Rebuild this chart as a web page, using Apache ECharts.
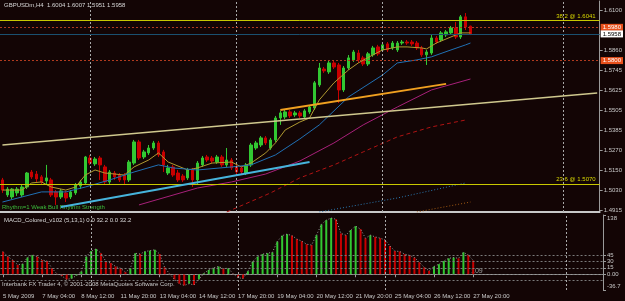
<!DOCTYPE html>
<html>
<head>
<meta charset="utf-8">
<script src="https://cdn.jsdelivr.net/npm/echarts@6/dist/echarts.min.js"></script>
<style>
html, body { margin: 0; padding: 0; background: #130505; }
#chart { width: 625px; height: 301px; }
</style>
</head>
<body>
<div id="chart"></div>
<script>
// ---- GBPUSD H4 candles: [open, close, low, high] ----
var candles = [
  [1.5093, 1.5033, 1.5016, 1.5105], [1.5004, 1.5039, 1.4992, 1.5051], [1.4992, 1.5039, 1.4980, 1.5045],
  [1.5016, 1.5039, 1.4998, 1.5051], [1.5004, 1.5051, 1.4992, 1.5063], [1.5051, 1.5134, 1.5039, 1.5140],
  [1.5140, 1.5111, 1.5099, 1.5152], [1.5128, 1.5099, 1.5081, 1.5146], [1.5111, 1.5081, 1.5069, 1.5122],
  [1.5087, 1.5105, 1.5069, 1.5182], [1.5093, 1.5004, 1.4992, 1.5105], [1.5022, 1.4992, 1.4945, 1.5033],
  [1.4992, 1.5028, 1.4980, 1.5039], [1.5016, 1.4986, 1.4962, 1.5028], [1.4992, 1.5022, 1.4980, 1.5033],
  [1.5016, 1.5063, 1.5004, 1.5075], [1.5057, 1.5081, 1.5039, 1.5093], [1.5075, 1.5229, 1.5063, 1.5235],
  [1.5223, 1.5193, 1.5182, 1.5241], [1.5188, 1.5217, 1.5176, 1.5229], [1.5223, 1.5182, 1.5093, 1.5235],
  [1.5170, 1.5081, 1.5069, 1.5182], [1.5081, 1.5140, 1.5069, 1.5152], [1.5134, 1.5111, 1.5093, 1.5146],
  [1.5122, 1.5093, 1.5081, 1.5134], [1.5122, 1.5093, 1.5069, 1.5134], [1.5093, 1.5199, 1.5081, 1.5211],
  [1.5193, 1.5318, 1.5182, 1.5330], [1.5318, 1.5223, 1.5211, 1.5330], [1.5229, 1.5259, 1.5217, 1.5271],
  [1.5253, 1.5282, 1.5241, 1.5300], [1.5282, 1.5312, 1.5271, 1.5324], [1.5312, 1.5241, 1.5229, 1.5324],
  [1.5259, 1.5182, 1.5140, 1.5271], [1.5134, 1.5164, 1.5122, 1.5182], [1.5170, 1.5122, 1.5111, 1.5182],
  [1.5134, 1.5093, 1.5081, 1.5152], [1.5116, 1.5093, 1.5081, 1.5128], [1.5105, 1.5152, 1.5093, 1.5164],
  [1.5152, 1.5093, 1.5051, 1.5164], [1.5093, 1.5193, 1.5063, 1.5205], [1.5182, 1.5223, 1.5170, 1.5235],
  [1.5229, 1.5211, 1.5199, 1.5241], [1.5223, 1.5205, 1.5193, 1.5235], [1.5199, 1.5229, 1.5188, 1.5241],
  [1.5229, 1.5182, 1.5170, 1.5241], [1.5182, 1.5211, 1.5170, 1.5282], [1.5211, 1.5164, 1.5152, 1.5223],
  [1.5170, 1.5140, 1.5128, 1.5182], [1.5164, 1.5140, 1.5122, 1.5176], [1.5134, 1.5182, 1.5122, 1.5193],
  [1.5182, 1.5300, 1.5170, 1.5312], [1.5282, 1.5312, 1.5271, 1.5324], [1.5300, 1.5342, 1.5288, 1.5353],
  [1.5342, 1.5312, 1.5300, 1.5353], [1.5282, 1.5330, 1.5271, 1.5342], [1.5330, 1.5460, 1.5318, 1.5472],
  [1.5460, 1.5490, 1.5419, 1.5502], [1.5466, 1.5496, 1.5454, 1.5507], [1.5496, 1.5472, 1.5460, 1.5507],
  [1.5478, 1.5490, 1.5466, 1.5502], [1.5490, 1.5472, 1.5460, 1.5502], [1.5466, 1.5502, 1.5454, 1.5513],
  [1.5496, 1.5525, 1.5484, 1.5537], [1.5519, 1.5668, 1.5507, 1.5679], [1.5656, 1.5756, 1.5644, 1.5786],
  [1.5750, 1.5739, 1.5727, 1.5762], [1.5733, 1.5786, 1.5721, 1.5798], [1.5786, 1.5762, 1.5750, 1.5798],
  [1.5774, 1.5626, 1.5549, 1.5786], [1.5626, 1.5756, 1.5614, 1.5768], [1.5756, 1.5816, 1.5745, 1.5833],
  [1.5804, 1.5851, 1.5792, 1.5863], [1.5845, 1.5804, 1.5786, 1.5863], [1.5816, 1.5780, 1.5768, 1.5828],
  [1.5780, 1.5840, 1.5768, 1.5851], [1.5834, 1.5875, 1.5822, 1.5887], [1.5881, 1.5840, 1.5828, 1.5893],
  [1.5863, 1.5893, 1.5851, 1.5904], [1.5899, 1.5863, 1.5851, 1.5910], [1.5875, 1.5904, 1.5863, 1.5916],
  [1.5863, 1.5904, 1.5851, 1.5916], [1.5904, 1.5910, 1.5893, 1.5922], [1.5910, 1.5904, 1.5893, 1.5922],
  [1.5910, 1.5899, 1.5887, 1.5922], [1.5904, 1.5875, 1.5863, 1.5916], [1.5875, 1.5834, 1.5822, 1.5887],
  [1.5834, 1.5851, 1.5774, 1.5863], [1.5845, 1.5934, 1.5834, 1.5952], [1.5934, 1.5910, 1.5899, 1.5946],
  [1.5922, 1.5964, 1.5910, 1.5975], [1.5952, 1.5970, 1.5940, 1.5981], [1.5964, 1.5993, 1.5952, 1.6005],
  [1.5993, 1.5940, 1.5928, 1.6029], [1.5940, 1.6059, 1.5928, 1.6070], [1.6059, 1.5999, 1.5981, 1.6082],
  [1.6004, 1.5958, 1.5951, 1.6007]
];

// ---- moving averages, [bar, price] ----
var maFast = [[0, 1.5033], [4, 1.5033], [6, 1.5075], [8, 1.5081], [10, 1.5051], [13, 1.5033], [15, 1.5051],
  [17, 1.5122], [19, 1.5152], [21, 1.5134], [25, 1.5122], [27, 1.5170], [30, 1.5211], [32, 1.5253],
  [34, 1.5199], [38, 1.5152], [40, 1.5164], [43, 1.5193], [47, 1.5199], [49, 1.5170], [51, 1.5193],
  [54, 1.5253], [56, 1.5312], [58, 1.5389], [61, 1.5436], [63, 1.5460], [65, 1.5567], [68, 1.5668],
  [71, 1.5745], [73, 1.5786], [76, 1.5834], [78, 1.5863], [81, 1.5881], [83, 1.5881], [86, 1.5875],
  [87, 1.5869], [89, 1.5904], [92, 1.5940], [94, 1.5964], [96, 1.5964]];
var maMid = [[0, 1.4962], [4, 1.4992], [8, 1.5022], [13, 1.5022], [17, 1.5051], [22, 1.5093], [27, 1.5140],
  [32, 1.5182], [35, 1.5164], [40, 1.5152], [47, 1.5170], [51, 1.5182], [56, 1.5241], [61, 1.5336],
  [65, 1.5419], [71, 1.5585], [78, 1.5715], [81, 1.5786], [85, 1.5804], [88, 1.5822], [92, 1.5863],
  [95, 1.5893], [96, 1.5904]];
var maSlow = [[28, 1.4945], [40, 1.5045], [47, 1.5081], [54, 1.5128], [61, 1.5205], [68, 1.5312],
  [74, 1.5419], [81, 1.5525], [88, 1.5626], [96, 1.5691]];
var maLong = [[46, 1.4903], [55, 1.5016], [61, 1.5105], [68, 1.5182], [74, 1.5259], [81, 1.5348],
  [88, 1.5407], [95, 1.5448]];
var envBlue = [[65, 1.4903], [81, 1.4986], [95, 1.5075]];
var envOrange = [[85, 1.4903], [96, 1.4962]];

// ---- trend lines, [bar, price] start and end ----
var trendUpper = [[0, 1.5300], [122, 1.5608]];
var trendLower = [[72, 1.4897], [122, 1.5075]];
var trendCyan = [[12, 1.4933], [63, 1.5199]];
var trendOrange = [[57, 1.5507], [91, 1.5662]];

// ---- horizontal levels ----
var fibLevels = [1.6041, 1.5070];
var fibText = ['38.2 @ 1.6041', '23.6 @ 1.5070'];
var redLevels = [1.5997, 1.5800];
var redText = ['1.5980', '1.5800'];
var bidLevel = 1.5958;

// ---- MACD_Colored histogram ----
var macdHist = [52.6, 41, 33, 22, 24, 39, 45, 41, 33, 31, 14, 1, -4, -12, -10, -3, 6.5, 41, 54, 59,
  49, 30, 26, 18, 14, 5, 14, 49, 47, 53, 55, 57, 47, 16, 1, -12, -22, -26, -22, -25,
  -12, 2, 10, 15, 18, 13, 14, 1, -8, -10, 7, 30, 41, 47, 49, 51, 76, 90, 93.5, 90,
  82, 77, 70, 68, 91, 116, 126, 131, 128, 95, 91, 103, 112, 105, 84, 91, 87, 84, 80, 66,
  54, 53, 47, 44, 39, 28, 16, 8, 18, 23.5, 31, 37, 39, 37, 51, 45, 32.2];
var macdLevels = [45, 30, 15, 0, -15];

// ---- axes ----
var timeTickBars = [0, 8, 16, 24, 32, 40, 48, 56, 64, 72, 80, 88, 96];
var timeTickText = ['5 May 2009', '7 May 04:00', '8 May 12:00', '11 May 20:00', '13 May 04:00',
  '14 May 12:00', '17 May 20:00', '19 May 04:00', '20 May 12:00', '21 May 20:00', '25 May 04:00',
  '26 May 12:00', '27 May 20:00'];
var priceTicks = [1.6100, 1.5860, 1.5745, 1.5625, 1.5505, 1.5385, 1.5270, 1.5150, 1.5030, 1.4915];
var macdTicks = [138, 45, 30, 15, 0, -15, -36.7];
var separatorBars = [18, 48, 78, 115];

var SLOTS = 123;
var cats = [];
for (var i = 0; i < SLOTS; i++) cats.push(i);

var UP = '#32c832', DOWN = '#c80000';
var FONT = 'Liberation Sans';
var TXT = '#c8c8c8';

var chart = echarts.init(document.getElementById('chart'), null, { renderer: 'canvas' });

function seg(pts, color, width) {
  return [{ coord: pts[0], lineStyle: { color: color, width: width, type: 'solid' } }, { coord: pts[1] }];
}
function vline(b) {
  return { xAxis: b, lineStyle: { color: '#a8a8a8', type: [2, 2], width: 1 }, label: { show: false } };
}
function priceBox(text, bg, fg) {
  return { show: true, position: 'end', formatter: text, backgroundColor: bg, color: fg,
    fontSize: 6, fontFamily: FONT, padding: [1, 2, 0, 2], distance: 1 };
}

var mainMarks = separatorBars.map(vline);
fibLevels.forEach(function (v, k) {
  mainMarks.push({ yAxis: v, lineStyle: { color: '#c8c800', type: 'solid', width: 1 },
    label: { show: true, position: 'insideEndTop', formatter: fibText[k], color: '#d8d800',
      fontSize: 6, fontFamily: FONT, distance: [4, 1] } });
});
redLevels.forEach(function (v, k) {
  mainMarks.push({ yAxis: v, lineStyle: { color: '#b03a1e', type: [2, 2], width: 1 },
    label: priceBox(redText[k], '#e8501c', '#ffffff') });
});
mainMarks.push({ yAxis: bidLevel, lineStyle: { color: '#1a5070', type: 'solid', width: 1 },
  label: priceBox(bidLevel.toFixed(4), '#ffffff', '#000000') });
mainMarks.push(seg(trendUpper, '#cfc88e', 1.5), seg(trendLower, '#cfc88e', 1.5),
  seg(trendCyan, '#46b4dc', 2), seg(trendOrange, '#f0a020', 2));

var macdMarks = macdLevels.map(function (v) {
  return { yAxis: v, lineStyle: { color: '#7a7a7a', type: [2, 2], width: 1 }, label: { show: false } };
}).concat(separatorBars.map(vline));

var macdBars = macdHist.map(function (v, k) {
  var up = k > 0 && v >= macdHist[k - 1];
  return { value: v, itemStyle: { color: up ? UP : DOWN } };
});

chart.setOption({
  backgroundColor: '#130505',
  animation: false,
  textStyle: { fontFamily: FONT },
  grid: [
    { left: -1, width: 604, top: 1, height: 211 },
    { left: -1, width: 604, top: 215, height: 75 }
  ],
  xAxis: [
    { type: 'category', gridIndex: 0, data: cats, boundaryGap: true,
      axisLine: { show: true, lineStyle: { color: '#c8c8c8', width: 2 } },
      axisTick: { show: false }, axisLabel: { show: false }, splitLine: { show: false } },
    { type: 'category', gridIndex: 1, data: cats, boundaryGap: true,
      axisLine: { show: true, lineStyle: { color: '#9a9a9a', width: 1 } },
      axisTick: { show: true, alignWithLabel: true, length: 3, lineStyle: { color: '#9a9a9a' },
        interval: function (idx) { return timeTickBars.indexOf(idx) >= 0; } },
      axisLabel: { show: true, color: TXT, fontSize: 6, fontFamily: FONT, align: 'left', margin: 3,
        interval: function (idx) { return timeTickBars.indexOf(idx) >= 0; },
        formatter: function (val, idx) {
          var k = timeTickBars.indexOf(idx);
          return k >= 0 ? timeTickText[k] : '';
        } },
      splitLine: { show: false } }
  ],
  yAxis: [
    { type: 'value', gridIndex: 0, position: 'right', min: 1.4903, max: 1.6153,
      axisLine: { show: true, lineStyle: { color: '#9a9a9a' } },
      axisTick: { show: true, length: 3, customValues: priceTicks, lineStyle: { color: '#9a9a9a' } },
      axisLabel: { color: TXT, fontSize: 6, fontFamily: FONT, margin: 4, customValues: priceTicks,
        formatter: function (v) { return v.toFixed(4); } },
      splitLine: { show: false } },
    { type: 'value', gridIndex: 1, position: 'right', min: -36.7, max: 138,
      axisLine: { show: true, lineStyle: { color: '#9a9a9a' } },
      axisTick: { show: true, length: 3, customValues: macdTicks, lineStyle: { color: '#9a9a9a' } },
      axisLabel: { color: TXT, fontSize: 6, fontFamily: FONT, margin: 4, customValues: macdTicks,
        showMinLabel: true, showMaxLabel: true, hideOverlap: false,
        formatter: function (v) {
          if (v === 138) return '{top|138}';
          if (v === -36.7) return '{bot|-36.7}';
          if (v === 0) return '0.00';
          return String(v);
        },
        rich: {
          top: { fontSize: 6, color: TXT, fontFamily: FONT, padding: [7, 0, 0, 0] },
          bot: { fontSize: 6, color: TXT, fontFamily: FONT, padding: [0, 0, 8, 0] }
        } },
      splitLine: { show: false } }
  ],
  series: [
    { type: 'candlestick', xAxisIndex: 0, yAxisIndex: 0, data: candles, barWidth: 3,
      itemStyle: { color: UP, color0: DOWN, borderColor: UP, borderColor0: DOWN, borderWidth: 1 } },
    { type: 'line', xAxisIndex: 0, yAxisIndex: 0, data: maFast, showSymbol: false, silent: true,
      lineStyle: { color: '#b09a30', width: 1 },
      markLine: { silent: true, symbol: 'none', animation: false, precision: 6, data: mainMarks } },
    { type: 'line', xAxisIndex: 0, yAxisIndex: 0, data: maMid, showSymbol: false, silent: true,
      lineStyle: { color: '#2070b4', width: 1 } },
    { type: 'line', xAxisIndex: 0, yAxisIndex: 0, data: maSlow, showSymbol: false, silent: true,
      lineStyle: { color: '#a8207a', width: 1 } },
    { type: 'line', xAxisIndex: 0, yAxisIndex: 0, data: maLong, showSymbol: false, silent: true,
      lineStyle: { color: '#b01414', width: 1, type: [4, 3] } },
    { type: 'line', xAxisIndex: 0, yAxisIndex: 0, data: envBlue, showSymbol: false, silent: true,
      lineStyle: { color: '#2a78b0', width: 1, type: [1, 2] } },
    { type: 'line', xAxisIndex: 0, yAxisIndex: 0, data: envOrange, showSymbol: false, silent: true,
      lineStyle: { color: '#a05a14', width: 1, type: [1, 2] } },
    { type: 'bar', xAxisIndex: 1, yAxisIndex: 1, data: macdBars, barWidth: 2 },
    { type: 'line', xAxisIndex: 1, yAxisIndex: 1, data: macdHist, showSymbol: false, silent: true,
      lineStyle: { color: '#9a9a9a', width: 1, type: [1, 2] },
      markLine: { silent: true, symbol: 'none', animation: false, precision: 6, data: macdMarks } }
  ],
  graphic: [
    { type: 'text', left: 4, top: 2, style: { text: 'GBPUSDm,H4  1.6004 1.6007 1.5951 1.5958',
      fill: '#d8d8d8', font: '6px "Liberation Sans"' } },
    { type: 'text', left: 2, top: 204, style: { text: 'Rhythm=1 Weak Bull Rhythm Strength',
      fill: '#3cbe3c', font: '6px "Liberation Sans"' } },
    { type: 'text', left: 4, top: 217, style: { text: 'MACD_Colored_v102 (5,13,1) 0.0 32.2 0.0 32.2',
      fill: '#d8d8d8', font: '6px "Liberation Sans"' } },
    { type: 'text', left: 2, top: 281, style: { text: 'Interbank FX Trader 4, \u00a9 2001-2008 MetaQuotes Software Corp.',
      fill: '#c8c8c8', font: '6px "Liberation Sans"' } },
    { type: 'text', left: 471, top: 268, style: { text: '109', fill: '#a0a0a0', font: '7px "Liberation Sans"' } }
  ]
});
</script>
</body>
</html>
